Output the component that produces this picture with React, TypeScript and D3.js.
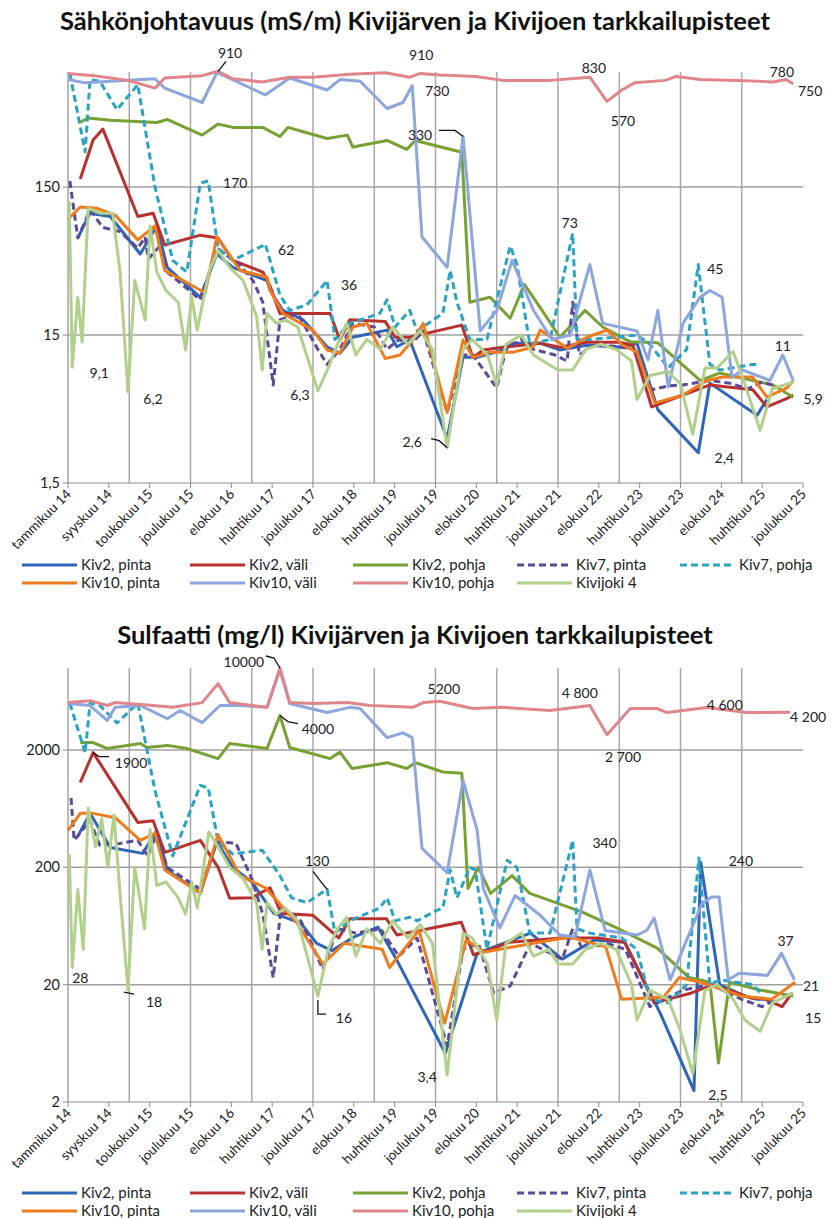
import * as d3 from 'd3';

type Pt = [number, number];

const xTickLabels = [
  'tammikuu 14', 'syyskuu 14', 'toukokuu 15', 'joulukuu 15', 'elokuu 16', 'huhtikuu 17',
  'joulukuu 17', 'elokuu 18', 'huhtikuu 19', 'joulukuu 19', 'elokuu 20', 'huhtikuu 21',
  'joulukuu 21', 'elokuu 22', 'huhtikuu 23', 'joulukuu 23', 'elokuu 24', 'huhtikuu 25', 'joulukuu 25',
];
const gridYears = [2015, 2016, 2017, 2018, 2019, 2020, 2021, 2022, 2023, 2024, 2025];

const seriesNames = [
  'Kiv2, pinta', 'Kiv2, väli', 'Kiv2, pohja', 'Kiv7, pinta', 'Kiv7, pohja',
  'Kiv10, pinta', 'Kiv10, väli', 'Kiv10, pohja', 'Kivijoki 4',
];
const seriesColors = [
  '#2f66b8', '#b8312f', '#77a132', '#5b4a9a', '#2ba3c4',
  '#f07c1e', '#8ea6de', '#e08589', '#b1d08c',
];
const seriesDashed = [false, false, false, true, true, false, false, false, false];

// --- Sähkönjohtavuus (mS/m) ---
const ecKiv2Pinta: Pt[] = [[2014.16,68],[2014.36,100],[2014.69,95],[2015.18,53],[2015.45,82],[2015.62,43],[2016.16,27],[2016.43,53],[2016.69,43],[2017.25,35],[2017.3,30],[2017.51,22],[2017.84,19],[2018.23,12.5],[2018.44,11.3],[2018.65,14.5],[2019.21,16.2],[2019.37,12.5],[2019.58,13.9],[2020.19,3.0],[2020.45,10.6],[2020.68,10.6],[2021.1,11.9],[2021.27,13.2],[2021.71,13.2],[2022.03,11.9],[2022.47,12.8],[2023.06,12.4],[2023.29,13.2],[2023.63,4.7],[2024.29,2.4],[2024.48,7.1],[2025.25,4.3],[2025.41,5.5]];
const ecKiv2Vali: Pt[] = [[2014.2,170],[2014.41,312],[2014.57,370],[2015.14,95],[2015.39,100],[2015.58,61],[2016.16,71],[2016.45,68],[2016.69,48],[2017.18,40],[2017.3,32],[2017.46,21],[2018.28,21],[2018.44,13.9],[2018.6,19],[2019.18,18.5],[2019.34,14.5],[2019.58,14.5],[2020.43,17.5],[2020.61,10.6],[2020.78,11.9],[2021.1,12.4],[2021.71,13.2],[2022.03,12.4],[2022.47,13.4],[2023.01,13.4],[2023.22,12.8],[2023.53,4.9],[2024.04,5.9],[2024.48,6.9],[2025.18,6.4],[2025.41,4.9],[2025.74,5.6],[2025.84,5.9]];
const ecKiv2Pohja: Pt[] = [[2014.2,412],[2014.33,440],[2014.69,425],[2015.45,410],[2015.62,430],[2016.19,337],[2016.45,400],[2016.69,380],[2017.18,380],[2017.46,330],[2017.59,380],[2018.23,320],[2018.56,337],[2018.65,280],[2019.21,310],[2019.53,270],[2019.67,310],[2020.43,258],[2020.56,25],[2020.89,27],[2021.22,19.5],[2021.45,33],[2021.71,23],[2022.03,14.5],[2022.44,22],[2022.73,17],[2023.18,13.5],[2023.63,13.3],[2024.32,7.4],[2024.64,8.3],[2025.51,6.9],[2025.84,5.7]];
const ecKiv7Pinta: Pt[] = [[2014.03,165],[2014.16,68],[2014.36,105],[2014.57,80],[2014.85,75],[2015.14,58],[2015.26,69],[2015.31,49],[2015.5,60],[2015.62,40],[2016.16,26],[2016.43,58],[2016.8,45],[2017.02,35],[2017.18,25],[2017.35,6.9],[2017.46,19],[2017.75,21],[2018.08,12],[2018.23,9.5],[2018.44,12],[2018.65,18],[2019.0,17],[2019.21,12],[2019.4,14],[2019.6,13],[2019.8,16],[2020.19,4.5],[2020.45,11],[2020.61,11],[2020.9,7.5],[2021.0,6.6],[2021.15,12],[2021.4,14],[2021.6,12],[2021.95,11],[2022.15,10],[2022.24,25],[2022.35,11],[2022.6,13],[2023.0,12.5],[2023.25,12],[2023.53,6.4],[2023.8,6.8],[2024.04,6.9],[2024.48,7.4],[2024.8,7.1],[2025.1,6.5],[2025.33,7.2],[2025.55,6.8]];
const ecKiv7Pohja: Pt[] = [[2014.03,880],[2014.28,260],[2014.36,800],[2014.52,780],[2014.8,500],[2015.14,740],[2015.42,150],[2015.71,48],[2015.94,40],[2016.16,160],[2016.29,165],[2016.45,58],[2016.69,48],[2017.17,60],[2017.22,62],[2017.46,28],[2017.62,22],[2017.9,24],[2018.23,35],[2018.36,14],[2018.6,18],[2019.09,21],[2019.21,26],[2019.34,17],[2019.58,22],[2019.7,16],[2020.12,21],[2020.24,41],[2020.35,25],[2020.56,14],[2020.84,14],[2021.22,60],[2021.33,45],[2021.54,13],[2021.87,14],[2022.24,73],[2022.31,14],[2022.52,14],[2023.29,15],[2023.5,13],[2023.8,9],[2024.1,12],[2024.29,45],[2024.48,9.5],[2024.64,8.7],[2025.18,9.5],[2025.3,9.5]];
const ecKiv10Pinta: Pt[] = [[2014.0,91],[2014.2,110],[2014.47,108],[2014.77,97],[2015.14,66],[2015.42,82],[2015.58,41],[2016.24,29],[2016.43,69],[2016.81,41],[2017.25,37],[2017.3,30],[2017.51,21],[2018.0,16.2],[2018.23,11.9],[2018.44,11.3],[2018.65,17],[2018.88,18],[2019.18,10.4],[2019.42,11],[2019.63,13.9],[2019.8,18],[2020.19,4.5],[2020.45,13.9],[2020.61,10.6],[2020.89,11.5],[2021.27,11.5],[2021.59,12.4],[2021.71,16.2],[2022.15,12.2],[2022.47,14.5],[2022.8,16.2],[2023.06,12.8],[2023.29,11.5],[2023.58,5.2],[2024.04,5.9],[2024.43,7.4],[2024.69,7.8],[2025.18,7.8],[2025.41,5.7],[2025.74,6.6],[2025.84,7.4]];
const ecKiv10Vali: Pt[] = [[2014.0,800],[2014.28,760],[2015.42,810],[2015.58,700],[2016.19,560],[2016.43,890],[2016.69,800],[2017.22,630],[2017.62,820],[2018.23,680],[2018.44,800],[2018.77,780],[2019.21,510],[2019.47,560],[2019.62,730],[2019.78,69],[2020.19,43],[2020.45,330],[2020.73,16],[2021.0,22],[2021.25,48],[2021.6,22],[2021.9,14],[2022.2,15],[2022.52,45],[2022.73,18],[2023.29,16],[2023.47,10.2],[2023.63,22],[2023.8,6.7],[2024.04,18],[2024.32,27],[2024.48,30],[2024.68,27],[2024.84,7.8],[2025.02,8.7],[2025.46,7.4],[2025.67,11],[2025.84,7.4]];
const ecKiv10Pohja: Pt[] = [[2014.0,880],[2014.43,850],[2014.98,790],[2015.42,700],[2015.58,820],[2016.19,850],[2016.45,910],[2016.69,810],[2017.17,770],[2017.62,830],[2018.0,830],[2018.6,870],[2019.18,890],[2019.58,830],[2019.75,880],[2020.07,860],[2020.66,840],[2021.1,790],[2021.87,790],[2022.52,830],[2022.8,570],[2023.04,680],[2023.25,760],[2023.75,790],[2023.93,840],[2024.32,800],[2024.93,790],[2025.51,770],[2025.72,800],[2025.84,750]];
const ecKivijoki4: Pt[] = [[2014.02,120],[2014.07,9.1],[2014.16,27],[2014.23,13.5],[2014.33,108],[2014.52,100],[2014.73,100],[2014.85,40],[2014.98,6.2],[2015.09,35],[2015.26,19],[2015.34,82],[2015.45,40],[2015.6,30],[2015.8,25],[2015.92,11.9],[2016.02,27],[2016.11,16.2],[2016.3,40],[2016.45,56],[2016.64,43],[2016.86,35],[2017.08,20],[2017.17,8.7],[2017.25,21],[2017.4,18],[2017.55,19],[2017.75,17],[2018.08,6.3],[2018.25,9],[2018.4,13],[2018.55,18],[2018.7,11],[2018.88,14],[2019.1,12],[2019.3,17],[2019.55,13],[2019.75,16],[2019.95,12],[2020.19,2.6],[2020.45,12],[2020.6,14],[2020.85,11],[2021.0,6.9],[2021.15,13],[2021.4,15],[2021.6,11],[2021.85,9.5],[2022.0,8.7],[2022.24,8.7],[2022.45,12],[2022.7,13],[2022.95,12],[2023.2,10],[2023.29,5.5],[2023.5,8],[2023.8,8.5],[2024.0,7],[2024.2,3.2],[2024.4,9],[2024.6,9],[2024.86,11.6],[2025.05,7],[2025.3,3.4],[2025.5,6.5],[2025.84,7.2]];

// --- Sulfaatti (mg/l) ---
const soKiv2Pinta: Pt[] = [[2014.15,360],[2014.36,577],[2014.69,295],[2015.22,263],[2015.45,413],[2015.62,190],[2016.16,120],[2016.43,330],[2016.69,200],[2017.0,150],[2017.36,81],[2017.8,67],[2018.06,45],[2018.31,39],[2018.67,51],[2019.06,62],[2019.36,33],[2020.16,5.2],[2020.68,37],[2021.55,55],[2022.07,33],[2022.59,48],[2023.09,46],[2023.67,11.4],[2024.22,2.5],[2024.33,220],[2024.64,20],[2025.05,16],[2025.25,15],[2025.41,15]];
const soKiv2Vali: Pt[] = [[2014.2,1057],[2014.41,1900],[2015.14,483],[2015.39,500],[2015.58,268],[2016.16,340],[2016.45,200],[2016.64,109],[2017.0,110],[2017.3,134],[2017.48,81],[2018.0,78],[2018.42,50],[2018.6,73],[2019.2,73],[2019.37,53],[2020.42,68],[2020.62,36],[2020.85,39],[2021.2,46],[2022.06,50],[2022.66,50],[2023.09,46],[2023.57,14],[2024.18,17],[2024.53,20],[2025.17,15.3],[2025.35,15.3],[2025.66,13],[2025.82,17]];
const soKiv2Pohja: Pt[] = [[2014.2,2317],[2014.41,2317],[2014.64,2060],[2015.18,2270],[2015.29,2100],[2015.62,2190],[2015.94,2060],[2016.45,1690],[2016.64,2270],[2017.25,2060],[2017.46,3934],[2017.62,2100],[2018.28,1690],[2018.44,1920],[2018.64,1390],[2019.21,1560],[2019.53,1390],[2019.67,1560],[2020.12,1300],[2020.43,1270],[2020.53,132],[2020.7,200],[2020.9,120],[2021.25,170],[2021.54,120],[2022.4,83],[2022.93,62],[2023.62,41],[2024.14,23],[2024.48,21],[2024.62,4.3],[2024.8,21],[2025.3,18],[2025.84,16]];
const soKiv7Pinta: Pt[] = [[2014.05,780],[2014.1,340],[2014.36,500],[2014.52,308],[2014.85,320],[2015.14,340],[2015.3,250],[2015.45,380],[2015.62,200],[2016.16,130],[2016.43,330],[2016.74,322],[2017.0,160],[2017.18,80],[2017.35,23],[2017.48,90],[2017.8,70],[2018.0,42],[2018.16,27],[2018.4,60],[2018.7,55],[2019.1,60],[2019.4,35],[2019.7,50],[2020.19,6],[2020.45,40],[2020.7,45],[2020.95,17],[2021.22,19.5],[2021.55,45],[2022.07,33],[2022.24,60],[2022.4,40],[2022.8,45],[2023.1,40],[2023.5,13],[2024.04,18],[2024.5,20],[2025.0,15],[2025.33,13],[2025.55,15]];
const soKiv7Pohja: Pt[] = [[2014.03,5000],[2014.28,1900],[2014.36,5000],[2014.52,4800],[2014.8,3400],[2015.14,5000],[2015.42,900],[2015.71,250],[2016.16,1000],[2016.29,950],[2016.45,330],[2016.69,260],[2017.17,280],[2017.46,170],[2017.65,110],[2017.9,100],[2018.23,130],[2018.36,55],[2018.6,70],[2019.09,90],[2019.21,110],[2019.34,70],[2019.58,75],[2019.7,70],[2020.0,85],[2020.12,90],[2020.24,190],[2020.35,110],[2020.56,200],[2020.65,190],[2020.84,40],[2021.17,230],[2021.33,200],[2021.54,55],[2021.87,55],[2022.24,340],[2022.31,60],[2022.52,55],[2023.04,50],[2023.29,40],[2023.5,15],[2023.8,14],[2024.1,20],[2024.3,240],[2024.48,20],[2024.64,22],[2025.18,20],[2025.3,17]];
const soKiv10Pinta: Pt[] = [[2014.0,413],[2014.2,577],[2014.41,577],[2014.77,530],[2015.18,340],[2015.42,390],[2015.58,190],[2016.16,120],[2016.45,380],[2016.81,170],[2017.22,134],[2017.74,67],[2018.16,30],[2018.51,45],[2019.13,40],[2019.25,28],[2019.73,58],[2020.15,9.4],[2020.5,48],[2020.8,38],[2021.6,45],[2022.19,51],[2022.78,42],[2023.04,15],[2023.72,15.6],[2023.98,23],[2024.33,21],[2024.99,16],[2025.49,15],[2025.87,21]];
const soKiv10Vali: Pt[] = [[2014.0,4980],[2014.36,4790],[2014.64,3570],[2014.77,4620],[2015.18,4790],[2015.62,3700],[2015.83,4340],[2016.19,3420],[2016.48,4790],[2016.81,4790],[2017.25,4620],[2017.46,9600],[2017.62,4980],[2018.23,4170],[2018.6,4620],[2018.77,4510],[2019.21,2550],[2019.47,2800],[2019.62,2550],[2019.78,290],[2020.19,180],[2020.45,1100],[2020.68,413],[2020.78,132],[2021.05,61],[2021.3,115],[2021.71,78],[2022.03,53],[2022.28,51],[2022.52,190],[2022.77,58],[2023.29,53],[2023.45,58],[2023.57,74],[2023.83,22],[2024.35,98],[2024.51,112],[2024.63,112],[2024.78,22],[2024.96,25],[2025.42,24],[2025.65,37],[2025.86,22]];
const soKiv10Pohja: Pt[] = [[2014.0,5070],[2014.36,5270],[2014.64,4790],[2014.77,5070],[2015.39,4790],[2015.71,4620],[2016.19,5070],[2016.45,7360],[2016.64,5070],[2017.25,4620],[2017.46,10000],[2017.62,5070],[2018.0,4980],[2018.56,5070],[2018.93,4790],[2019.63,4620],[2019.8,5070],[2020.07,5200],[2020.61,4510],[2021.1,4620],[2021.87,4340],[2022.52,4800],[2022.8,2700],[2023.18,4510],[2023.62,4510],[2023.78,4170],[2024.43,4600],[2025.08,4170],[2025.79,4200]];
const soKivijoki4: Pt[] = [[2014.02,260],[2014.07,28],[2014.16,130],[2014.25,40],[2014.33,640],[2014.45,300],[2014.55,520],[2014.65,200],[2014.75,560],[2014.85,120],[2014.98,18],[2015.09,200],[2015.25,60],[2015.34,420],[2015.45,140],[2015.6,150],[2015.8,110],[2015.92,80],[2016.02,150],[2016.11,90],[2016.3,400],[2016.45,300],[2016.64,200],[2016.86,160],[2017.08,100],[2017.17,40],[2017.25,100],[2017.4,80],[2017.55,90],[2017.75,70],[2018.08,16],[2018.25,40],[2018.4,60],[2018.55,75],[2018.7,35],[2018.88,60],[2019.1,45],[2019.3,70],[2019.55,50],[2019.75,65],[2019.95,45],[2020.19,3.4],[2020.45,55],[2020.6,50],[2020.85,30],[2021.0,10],[2021.15,45],[2021.4,55],[2021.6,35],[2021.85,40],[2022.0,30],[2022.24,30],[2022.45,40],[2022.7,45],[2022.95,40],[2023.2,20],[2023.29,10],[2023.5,18],[2023.8,15],[2024.0,8],[2024.2,3.5],[2024.4,18],[2024.6,20],[2024.86,15],[2025.05,10],[2025.3,8],[2025.5,14],[2025.84,17]];

const ecSeries = [ecKiv2Pinta, ecKiv2Vali, ecKiv2Pohja, ecKiv7Pinta, ecKiv7Pohja, ecKiv10Pinta, ecKiv10Vali, ecKiv10Pohja, ecKivijoki4];
const soSeries = [soKiv2Pinta, soKiv2Vali, soKiv2Pohja, soKiv7Pinta, soKiv7Pohja, soKiv10Pinta, soKiv10Vali, soKiv10Pohja, soKivijoki4];

interface Note { text: string; at: Pt; dx: number; dy: number; lead?: Pt[] }

const ecNotes: Note[] = [
  { text: '910', at: [2016.45, 910], dx: 12, dy: -18, lead: [[0, 0], [8, -10]] },
  { text: '910', at: [2019.18, 890], dx: 36, dy: -18 },
  { text: '730', at: [2019.62, 730], dx: 25, dy: 6 },
  { text: '330', at: [2020.45, 330], dx: -43, dy: -1, lead: [[0, 0], [-8, -6], [-24, -6]] },
  { text: '830', at: [2022.52, 830], dx: 4, dy: -9 },
  { text: '570', at: [2022.8, 570], dx: 16, dy: 20 },
  { text: '780', at: [2025.72, 800], dx: -4, dy: -8 },
  { text: '750', at: [2025.84, 750], dx: 17, dy: 7 },
  { text: '170', at: [2016.29, 165], dx: 27, dy: 2 },
  { text: '62', at: [2017.22, 62], dx: 21, dy: 6 },
  { text: '36', at: [2018.23, 35], dx: 22, dy: 4 },
  { text: '73', at: [2022.24, 73], dx: -3, dy: -10 },
  { text: '45', at: [2024.29, 45], dx: 17, dy: 5 },
  { text: '9,1', at: [2014.07, 9.1], dx: 27, dy: 6 },
  { text: '6,2', at: [2014.98, 6.2], dx: 25, dy: 7 },
  { text: '6,3', at: [2018.08, 6.3], dx: -18, dy: 4 },
  { text: '2,6', at: [2020.19, 2.6], dx: -35, dy: -6, lead: [[0, 0], [-8, -7], [-16, -9]] },
  { text: '2,4', at: [2024.29, 2.4], dx: 26, dy: 5 },
  { text: '11', at: [2025.67, 11], dx: 0, dy: -9 },
  { text: '5,9', at: [2025.84, 5.9], dx: 20, dy: 4 },
];

const soNotes: Note[] = [
  { text: '10000', at: [2017.46, 10000], dx: -36, dy: -6, lead: [[0, 0], [-6, -10], [-14, -12]] },
  { text: '4000', at: [2017.46, 3934], dx: 38, dy: 13, lead: [[0, 0], [8, 6], [18, 8]] },
  { text: '5200', at: [2020.07, 5200], dx: 4, dy: -12 },
  { text: '4 800', at: [2022.52, 4800], dx: -10, dy: -12 },
  { text: '2 700', at: [2022.8, 2700], dx: 16, dy: 22 },
  { text: '4 600', at: [2024.43, 4600], dx: 18, dy: -3 },
  { text: '4 200', at: [2025.79, 4200], dx: 18, dy: 5 },
  { text: '1900', at: [2014.41, 1900], dx: 38, dy: 10, lead: [[0, 0], [6, 4], [16, 4]] },
  { text: '130', at: [2018.23, 130], dx: -10, dy: -28, lead: [[0, 0], [-8, -10], [-14, -18]] },
  { text: '340', at: [2022.24, 340], dx: 32, dy: 3 },
  { text: '240', at: [2024.3, 240], dx: 42, dy: 3 },
  { text: '28', at: [2014.07, 28], dx: 8, dy: 10 },
  { text: '18', at: [2014.98, 18], dx: 26, dy: 12, lead: [[-4, 2], [6, 4]] },
  { text: '16', at: [2018.08, 16], dx: 26, dy: 22, lead: [[0, 4], [0, 18], [8, 18]] },
  { text: '3,4', at: [2020.19, 3.4], dx: -20, dy: 2 },
  { text: '2,5', at: [2024.22, 2.5], dx: 24, dy: 4 },
  { text: '37', at: [2025.65, 37], dx: 4, dy: -12 },
  { text: '21', at: [2025.87, 21], dx: 16, dy: 4 },
  { text: '15', at: [2025.84, 16], dx: 20, dy: 22 },
];

const FONT = 'Lato, "Open Sans", sans-serif';
const X0 = 68;
const X1 = 803;

interface PanelProps {
  title: string;
  titleY: number;
  top: number;
  bottom: number;
  yMin: number;
  yMax: number;
  yTicks: number[];
  yTickLabels: string[];
  series: Pt[][];
  notes: Note[];
  legendY: number;
}

function Panel({ title, titleY, top, bottom, yMin, yMax, yTicks, yTickLabels, series, notes, legendY }: PanelProps) {
  const x = d3.scaleLinear().domain([2014, 2026]).range([X0, X1]);
  const y = d3.scaleLog().domain([yMin, yMax]).range([bottom, top]);
  const line = d3.line<Pt>().x((d) => x(d[0])).y((d) => y(d[1]));
  const tickYears = xTickLabels.map((_, i) => 2014 + (i * 12) / (xTickLabels.length - 1));
  const legendCols = [22, 190, 353, 517, 680];

  return (
    <g>
      <text x={415} y={titleY} textAnchor="middle" fontFamily={FONT} fontWeight="bold" fontSize={25.5} fill="#111">
        {title}
      </text>

      {/* gridlines */}
      {gridYears.map((yr) => (
        <line key={'v' + yr} x1={x(yr)} x2={x(yr)} y1={top} y2={bottom} stroke="#a9a9a9" strokeWidth={1.5} />
      ))}
      {yTicks.slice(1).map((v) => (
        <line key={'h' + v} x1={X0} x2={X1} y1={y(v)} y2={y(v)} stroke="#a0a0a0" strokeWidth={1.5} />
      ))}

      {/* axes */}
      <line x1={X0} x2={X0} y1={top} y2={bottom} stroke="#8c8c8c" strokeWidth={1.2} />
      <line x1={X0} x2={X1} y1={bottom} y2={bottom} stroke="#8c8c8c" strokeWidth={1.2} />
      {yTicks.map((v, i) => (
        <g key={'yt' + v}>
          <line x1={X0 - 5} x2={X0} y1={y(v)} y2={y(v)} stroke="#8c8c8c" />
          <text x={X0 - 8} y={y(v) + 5} textAnchor="end" fontFamily={FONT} fontSize={14.5} fill="#222">
            {yTickLabels[i]}
          </text>
        </g>
      ))}
      {tickYears.map((yr, i) => (
        <g key={'xt' + i}>
          <line x1={x(yr)} x2={x(yr)} y1={bottom} y2={bottom + 5} stroke="#8c8c8c" />
          <text
            transform={`translate(${x(yr) + 4},${bottom + 12}) rotate(-45)`}
            textAnchor="end"
            fontFamily={FONT}
            fontSize={13.5}
            fill="#222"
          >
            {xTickLabels[i]}
          </text>
        </g>
      ))}

      {/* series */}
      {series.map((d, i) => (
        <path
          key={'s' + i}
          d={line(d) || ''}
          fill="none"
          stroke={seriesColors[i]}
          strokeWidth={3}
          strokeLinejoin="round"
          strokeDasharray={seriesDashed[i] ? '7,4' : undefined}
        />
      ))}

      {/* value labels */}
      {notes.map((n, i) => {
        const px = x(n.at[0]);
        const py = y(n.at[1]);
        return (
          <g key={'n' + i}>
            {n.lead && (
              <polyline
                points={n.lead.map((p) => `${px + p[0]},${py + p[1]}`).join(' ')}
                fill="none"
                stroke="#111"
                strokeWidth={1.3}
              />
            )}
            <text x={px + n.dx} y={py + n.dy + 5} textAnchor="middle" fontFamily={FONT} fontSize={14} fill="#222">
              {n.text}
            </text>
          </g>
        );
      })}

      {/* legend */}
      {seriesNames.map((name, i) => {
        const col = i < 5 ? i : i - 5;
        const row = i < 5 ? 0 : 1;
        const lx = legendCols[col];
        const ly = legendY + row * 18;
        return (
          <g key={'l' + i}>
            <line
              x1={lx}
              x2={lx + 55}
              y1={ly}
              y2={ly}
              stroke={seriesColors[i]}
              strokeWidth={3}
              strokeDasharray={seriesDashed[i] ? '7,4' : undefined}
            />
            <text x={lx + 59} y={ly + 5} fontFamily={FONT} fontSize={15} fill="#222">
              {name}
            </text>
          </g>
        );
      })}
    </g>
  );
}

export default function App() {
  return (
    <svg
      width={831}
      height={1218}
      style={{ position: 'absolute', left: 0, top: 0, background: '#fff' }}
    >
      <Panel
        title="Sähkönjohtavuus (mS/m) Kivijärven ja Kivijoen tarkkailupisteet"
        titleY={30}
        top={72}
        bottom={483}
        yMin={1.5}
        yMax={900}
        yTicks={[1.5, 15, 150]}
        yTickLabels={['1,5', '15', '150']}
        series={ecSeries}
        notes={ecNotes}
        legendY={565}
      />
      <Panel
        title="Sulfaatti (mg/l) Kivijärven ja Kivijoen tarkkailupisteet"
        titleY={644}
        top={668}
        bottom={1102}
        yMin={2}
        yMax={10000}
        yTicks={[2, 20, 200, 2000]}
        yTickLabels={['2', '20', '200', '2000']}
        series={soSeries}
        notes={soNotes}
        legendY={1193}
      />
    </svg>
  );
}
